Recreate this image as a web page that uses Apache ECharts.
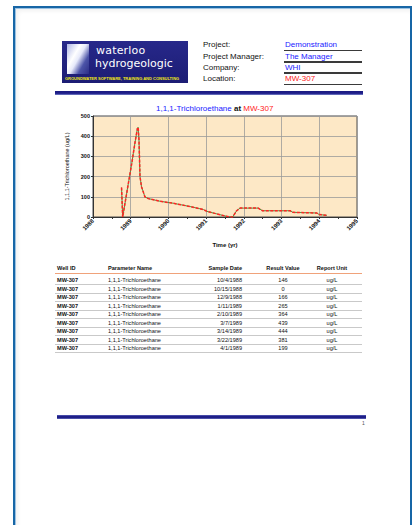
<!DOCTYPE html>
<html>
<head>
<meta charset="utf-8">
<script src="https://cdn.jsdelivr.net/npm/echarts@6/dist/echarts.min.js"></script>
<style>
  html, body { margin: 0; padding: 0; background: #ffffff; }
  body { width: 415px; height: 525px; position: relative; overflow: hidden;
         font-family: "Liberation Sans", Arial, sans-serif; }
  .abs { position: absolute; white-space: nowrap; }
  #frame { position: absolute; left: 13px; top: 6px; width: 395px; height: 540px;
           border: 2px solid #1766a6; box-shadow: inset 1px 1px 0 #9cc2e2, inset 3px 3px 4px rgba(0,0,0,0.06); }
  #logo { position: absolute; left: 62px; top: 41px; width: 126px; height: 42px;
          background: linear-gradient(180deg, #27288a 0%, #1c1d74 100%); overflow: hidden; }
  #logo .icon { position: absolute; left: 5px; top: 3px; width: 22px; height: 30px;
          background: linear-gradient(120deg, #aeb6e6 0%, #ffffff 35%, #e6e9fa 50%, #4c54a8 72%, #2b2d86 100%); }
  #logo .w1 { left: 34px; top: 3px; color: #ffffff; font: 11px "DejaVu Sans", sans-serif; letter-spacing: 0.2px; }
  #logo .w2 { left: 33px; top: 16px; color: #ffffff; font: 11px "DejaVu Sans", sans-serif; }
  #logo .tag { left: 3px; top: 34.5px; color: #f4ea12; font: bold 4px "Liberation Sans", Arial, sans-serif; }
  .hl { color: #111; font-size: 8px; }
  .hv { font-size: 8px; }
  .hline { position: absolute; left: 284px; width: 78px; height: 1.5px; background: #3a3a3a; }
  #rule1 { position: absolute; left: 55px; top: 91px; width: 308px; height: 4px;
           background: linear-gradient(180deg, #1a1a80 0%, #20208c 60%, #7b86c9 100%); }
  #rule2 { position: absolute; left: 57px; top: 415px; width: 309px; height: 4px;
           background: linear-gradient(180deg, #5a62b8 0%, #1f1f88 35%, #1f1f88 70%, #6a72c0 100%); }
  #chart { position: absolute; left: 50px; top: 98px; width: 320px; height: 160px; }
  .th { font-weight: bold; font-size: 5.6px; color: #111; }
  .td { font-size: 5.6px; color: #111; }
  .tdb { font-size: 5.6px; color: #111; font-weight: bold; }
  .rowline { position: absolute; left: 55px; width: 307px; height: 0.6px; background: #c9c9c9; }
  #hdrline { position: absolute; left: 55px; top: 272.5px; width: 307px; height: 1.6px; background: #f0a27a; }
  #pageno { left: 362px; top: 420px; font-size: 5px; color: #555; }
</style>
</head>
<body>
<div id="frame"></div>
<div id="logo">
  <div class="icon abs"></div>
  <div class="w1 abs">waterloo</div>
  <div class="w2 abs">hydrogeologic</div>
  <div class="tag abs" id="tag">GROUNDWATER SOFTWARE, TRAINING AND CONSULTING</div>
</div>
<div id="header"></div>
<div id="rule1"></div>
<div id="chart"></div>
<div id="table"></div>
<div id="rule2"></div>
<div id="pageno" class="abs">1</div>

<script>
// Report header fields
const headerLabels = ['Project:', 'Project Manager:', 'Company:', 'Location:'];
const headerValues = ['Demonstration', 'The Manager', 'WHI', 'MW-307'];
const headerColors = ['#1a1aff', '#1a1aff', '#1a1aff', '#ff1a1a'];

// Sampling record for 1,1,1-Trichloroethane at MW-307
const stationName = 'MW-307';
const parameterName = '1,1,1-Trichloroethane';
const unitName = 'ug/L';
const sampleDates = [
  '1988-10-04', '1988-10-15', '1988-12-09', '1989-01-11', '1989-02-10',
  '1989-03-07', '1989-03-14', '1989-03-22', '1989-04-01', '1989-04-16',
  '1989-05-19', '1989-06-21', '1989-10-12', '1990-02-17', '1990-07-27',
  '1990-12-05', '1991-01-08', '1991-06-17', '1991-08-20', '1991-09-14',
  '1991-10-23', '1991-11-25', '1992-05-19', '1992-07-01', '1993-03-25',
  '1993-04-20', '1993-12-06', '1994-01-01', '1994-03-15'
];
const sampleValues = [
  146, 0, 166, 265, 364,
  439, 444, 381, 199, 149,
  99, 91, 78, 68, 52,
  37, 28, 7, 0, 0,
  31, 44, 44, 31, 31,
  23, 20, 12, 8
];
const tableRowCount = 9;
const tableHeaders = ['Well ID', 'Parameter Name', 'Sample Date', 'Result Value', 'Report Unit'];

// Axis settings
const yTicks = { min: 0, max: 500, step: 100 };
const xYears = { min: 1988, max: 1995, step: 1 };

function decimalYear(s) {
  const [y, m, d] = s.split('-').map(Number);
  const start = Date.UTC(y, 0, 1), end = Date.UTC(y + 1, 0, 1);
  return y + (Date.UTC(y, m - 1, d) - start) / (end - start);
}
function usDate(s) {
  const [y, m, d] = s.split('-').map(Number);
  return m + '/' + d + '/' + y;
}

// Fit the logo tagline inside the logo box
const tag = document.getElementById('tag');
const tagW = tag.getBoundingClientRect().width;
if (tagW > 120) { tag.style.transformOrigin = '0 0'; tag.style.transform = 'scaleX(' + (120 / tagW) + ')'; }

// Header block
const header = document.getElementById('header');
const rowTops = [40, 52, 63, 74];
const lineTops = [49.5, 61, 72.3, 83.8];
headerLabels.forEach((t, i) => {
  const l = document.createElement('div');
  l.className = 'abs hl'; l.style.left = '203px'; l.style.top = rowTops[i] + 'px';
  l.textContent = t; header.appendChild(l);
  const v = document.createElement('div');
  v.className = 'abs hv'; v.style.left = '285px'; v.style.top = rowTops[i] + 'px';
  v.style.color = headerColors[i]; v.textContent = headerValues[i]; header.appendChild(v);
  const ln = document.createElement('div');
  ln.className = 'hline'; ln.style.top = lineTops[i] + 'px'; header.appendChild(ln);
});

// Data table
const table = document.getElementById('table');
function cell(text, cls, top, opts) {
  const e = document.createElement('div');
  e.className = 'abs ' + cls; e.textContent = text; e.style.top = top + 'px';
  if (opts.left != null) e.style.left = opts.left + 'px';
  if (opts.right != null) { e.style.left = (opts.right - 100) + 'px'; e.style.width = '100px'; e.style.textAlign = 'right'; }
  if (opts.center != null) { e.style.left = (opts.center - 50) + 'px'; e.style.width = '100px'; e.style.textAlign = 'center'; }
  table.appendChild(e);
}
const colPos = [{ left: 57 }, { left: 108 }, { right: 242 }, { center: 283 }, { center: 332 }];
const headTop = 264.5;
tableHeaders.forEach((h, i) => cell(h, 'th', headTop, colPos[i]));
const hl = document.createElement('div'); hl.id = 'hdrline'; table.appendChild(hl);
for (let r = 0; r < tableRowCount; r++) {
  const top = 277.2 + r * 8.5;
  cell(stationName, 'tdb', top, colPos[0]);
  cell(parameterName, 'td', top, colPos[1]);
  cell(usDate(sampleDates[r]), 'td', top, colPos[2]);
  cell(String(sampleValues[r]), 'td', top, colPos[3]);
  cell(unitName, 'td', top, colPos[4]);
  const ln = document.createElement('div');
  ln.className = 'rowline'; ln.style.top = (top + 7.2) + 'px'; table.appendChild(ln);
}

// Concentration history chart
const points = sampleDates.map((d, i) => [decimalYear(d), sampleValues[i]]);
const chart = echarts.init(document.getElementById('chart'), null, { renderer: 'svg' });
const font = '"Liberation Sans", Arial, sans-serif';
chart.setOption({
  animation: false,
  textStyle: { fontFamily: font },
  graphic: [{
    type: 'text', left: 106, top: 6,
    style: {
      text: '{a|' + parameterName + '}{b| at }{c|' + stationName + '}',
      rich: {
        a: { fill: '#1a1aff', fontSize: 8, fontFamily: font },
        b: { fill: '#111', fontSize: 8, fontWeight: 'bold', fontFamily: font },
        c: { fill: '#ff1a1a', fontSize: 8, fontFamily: font }
      }
    }
  }],
  grid: {
    left: 43, top: 18, width: 264, height: 101,
    show: true, backgroundColor: '#fde8c6', borderColor: '#4a4a4a', borderWidth: 1
  },
  xAxis: {
    type: 'value', min: xYears.min, max: xYears.max, interval: xYears.step,
    name: 'Time (yr)', nameLocation: 'middle', nameGap: 25,
    nameTextStyle: { fontSize: 6, fontWeight: 'bold', color: '#111' },
    axisLine: { lineStyle: { color: '#333', width: 1 } },
    axisTick: { show: true, length: 2, lineStyle: { color: '#333' } },
    minorTick: { show: true, splitNumber: 2, length: 2, lineStyle: { color: '#333' } },
    axisLabel: { rotate: 45, fontSize: 6, fontWeight: 'bold', color: '#111', margin: 3,
                 formatter: v => String(Math.round(v)) },
    splitLine: { show: true, lineStyle: { color: '#9a9a9a', width: 0.8 } }
  },
  yAxis: {
    type: 'value', min: yTicks.min, max: yTicks.max, interval: yTicks.step,
    name: parameterName + ' (' + unitName + ')', nameLocation: 'middle', nameGap: 17,
    nameTextStyle: { fontSize: 5.5, color: '#111' },
    axisLine: { show: true, lineStyle: { color: '#333', width: 1 } },
    axisTick: { show: true, length: 2, lineStyle: { color: '#333' } },
    axisLabel: { fontSize: 5.5, fontWeight: 'bold', color: '#111', margin: 3 },
    splitLine: { show: true, lineStyle: { color: '#9a9a9a', width: 0.8 } }
  },
  series: [
    {
      type: 'line', data: points, symbol: 'none', silent: true,
      lineStyle: { color: '#2a9a34', width: 0.9 }
    },
    {
      type: 'line', data: points, symbol: 'none', silent: true,
      lineStyle: { color: '#ff2424', width: 1.5, type: [3, 1.5] }
    }
  ]
});
</script>
</body>
</html>
